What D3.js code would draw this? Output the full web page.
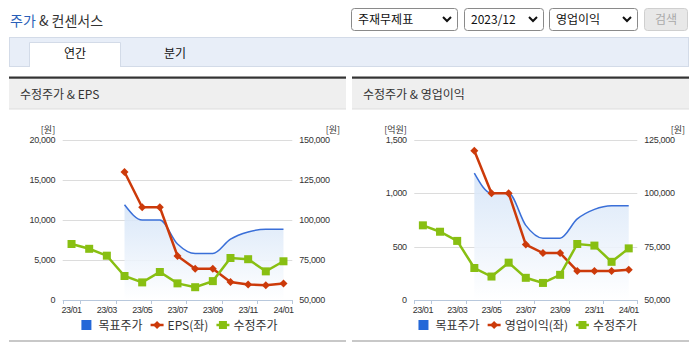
<!DOCTYPE html>
<html><head><meta charset="utf-8">
<script src="https://cdn.jsdelivr.net/npm/d3@7"></script>
<style>
body{margin:0;background:#fff;}
svg{display:block;font-family:"Liberation Sans","Noto Sans CJK KR",sans-serif;}
.kr{font-family:"Noto Sans CJK KR","Liberation Sans",sans-serif;}
</style></head><body>
<svg id="c" width="695" height="349"></svg>
<script>
// ---- data ----
const months = ["23/01","23/02","23/03","23/04","23/05","23/06","23/07","23/08","23/09","23/10","23/11","23/12","24/01"];
const tickMonths = ["23/01","23/03","23/05","23/07","23/09","23/11","24/01"];
const targetPrice = [null,null,null,109500,100000,100000,85000,79000,79000,88000,92500,94200,94200];
const adjPrice = [85000,82000,77700,65000,61000,67500,60400,58000,61800,76250,75500,67900,74200];
const eps = [null,null,null,16000,11600,11600,5500,3900,3900,2250,1950,1850,2050];
const opProfit = [null,null,null,1400,1000,1000,520,440,440,272,272,272,284];
const epsTicks = [0,5000,10000,15000,20000];
const priceTicksA = [50000,75000,100000,125000,150000];
const opTicks = [0,500,1000,1500];
const priceTicksB = [50000,75000,100000,125000];
const selects = ["주재무제표","2023/12","영업이익"];
const tabs = ["연간","분기"];

const C = {blue:"#3a6fd8", blueSq:"#2468d8", red:"#cc3a0a", green:"#88bf12", grid:"#dcdcdc", axis:"#b8c8dc", text:"#333"};

const svg = d3.select("#c");
const fmt = d3.format(",");

// ---- page header ----
const title = svg.append("text").attr("class","kr").attr("x",10).attr("y",26).attr("font-size",14);
title.append("tspan").attr("fill","#2a5fb8").text("주가");
title.append("tspan").attr("fill","#333").text(" & 컨센서스");

const selX = [351,464,549], selW = [106,79,88];
selects.forEach((s,i)=>{
  const g = svg.append("g").attr("transform",`translate(${selX[i]},8)`);
  g.append("rect").attr("x",0.5).attr("y",0.5).attr("width",selW[i]).attr("height",22).attr("rx",3).attr("fill","#fff").attr("stroke","#8a8a8a");
  g.append("text").attr("class","kr").attr("x",7).attr("y",16).attr("font-size",12).attr("fill","#111").text(s);
  const cx = selW[i]-10;
  g.append("path").attr("d",`M${cx-4},9 L${cx},13 L${cx+4},9`).attr("fill","none").attr("stroke","#111").attr("stroke-width",2);
});
svg.append("rect").attr("x",644.5).attr("y",8.5).attr("width",43).attr("height",22).attr("rx",3).attr("fill","#e8e8e8").attr("stroke","#cfcfcf");
svg.append("text").attr("class","kr").attr("x",666).attr("y",24).attr("text-anchor","middle").attr("font-size",12).attr("fill","#aaa").text("검색");

svg.append("rect").attr("x",9.5).attr("y",37.5).attr("width",679).attr("height",29).attr("fill","#e8eef8").attr("stroke","#d3dbe8");
svg.append("path").attr("d","M29.5,67 V42.5 H120.5 V67").attr("fill","#fff").attr("stroke","#d3dbe8");
tabs.forEach((t,i)=>{
  svg.append("text").attr("class","kr").attr("x",75+i*100).attr("y",58).attr("text-anchor","middle").attr("font-size",12).attr("fill","#111").text(t);
});

// ---- chart panels ----
const panels = [
  {x0:9, x1:346, title:"수정주가 & EPS", plotL:62.7, plotR:292.3, lDomain:[0,20000], lTicks:epsTicks, rDomain:[50000,150000], rTicks:priceTicksA,
   lUnit:"[원]", rUnit:"[원]", rUnitX:340, red:eps, redName:"EPS(좌)"},
  {x0:352, x1:689, title:"수정주가 & 영업이익", plotL:414.3, plotR:637.3, lDomain:[0,1500], lTicks:opTicks, rDomain:[50000,125000], rTicks:priceTicksB,
   lUnit:"[억원]", rUnit:"[원]", rUnitX:685, red:opProfit, redName:"영업이익(좌)"}
];

const defs = svg.append("defs");
const grad = defs.append("linearGradient").attr("id","ag").attr("x1",0).attr("y1",0).attr("x2",0).attr("y2",1);
grad.append("stop").attr("offset","0%").attr("stop-color","#d3e3f7").attr("stop-opacity",0.85);
grad.append("stop").attr("offset","100%").attr("stop-color","#ffffff").attr("stop-opacity",0.9);

const yTop = 140, yBot = 300;

panels.forEach((p,pi)=>{
  const g = svg.append("g");
  // header
  g.append("rect").attr("x",p.x0).attr("y",78).attr("width",p.x1-p.x0).attr("height",31).attr("fill","#efefef");
  g.append("rect").attr("x",p.x0).attr("y",108.5).attr("width",p.x1-p.x0).attr("height",1).attr("fill","#dedede");
  g.append("rect").attr("x",p.x0).attr("y",76.5).attr("width",p.x1-p.x0).attr("height",2.2).attr("fill","#333");
  g.append("text").attr("class","kr").attr("x",p.x0+11).attr("y",99).attr("font-size",12).attr("fill","#333").text(p.title);
  g.append("rect").attr("x",p.x0).attr("y",340).attr("width",p.x1-p.x0).attr("height",2).attr("fill","#c8c8c8");

  const x = d3.scaleBand().domain(months).range([p.plotL,p.plotR]);
  const cx = m => x(m)+x.bandwidth()/2;
  const yL = d3.scaleLinear().domain(p.lDomain).range([yBot,yTop]);
  const yR = d3.scaleLinear().domain(p.rDomain).range([yBot,yTop]);

  // grid
  g.selectAll(".grid").data(p.lTicks.filter(v=>v>p.lDomain[0])).join("line")
    .attr("x1",p.plotL).attr("x2",p.plotR).attr("y1",d=>Math.round(yL(d))+0.5).attr("y2",d=>Math.round(yL(d))+0.5)
    .attr("stroke",C.grid);

  // axis labels
  g.selectAll(".lt").data(p.lTicks).join("text")
    .attr("x",p.plotL-7.5).attr("y",d=>yL(d)+3).attr("text-anchor","end").attr("font-size",9).attr("letter-spacing",-0.3)
    .attr("fill",C.text).text(fmt);
  g.selectAll(".rt").data(p.rTicks).join("text")
    .attr("x",p.plotR+7).attr("y",d=>yR(d)+3).attr("text-anchor","start").attr("font-size",9).attr("letter-spacing",-0.3)
    .attr("fill",C.text).text(fmt);
  g.append("text").attr("class","kr").attr("x",p.plotL-7.5).attr("y",yTop-7).attr("text-anchor","end").attr("font-size",9).attr("fill",C.text).text(p.lUnit);
  g.append("text").attr("class","kr").attr("x",p.rUnitX).attr("y",yTop-7).attr("text-anchor","end").attr("font-size",9).attr("fill",C.text).text(p.rUnit);

  // x axis
  const xa = d3.axisBottom(x).tickValues(tickMonths).tickSize(0).tickPadding(7);
  const ax = g.append("g").attr("transform",`translate(0,${yBot})`).call(xa);
  ax.select(".domain").attr("stroke",C.axis).attr("d",`M${p.plotL},0.5H${p.plotR}`);
  ax.selectAll("text").attr("font-size",9).attr("letter-spacing",-0.5).attr("fill",C.text).attr("font-family","Liberation Sans");
  const edges = [p.plotL].concat(tickMonths.map(m=>x(m)+x.bandwidth()));
  g.selectAll(".tk").data(edges).join("line")
    .attr("x1",d=>Math.round(d)+0.5).attr("x2",d=>Math.round(d)+0.5).attr("y1",yBot).attr("y2",yBot+4).attr("stroke",C.axis);

  // target price area + line
  const tp = months.map((m,i)=>({m,v:targetPrice[i]})).filter(d=>d.v!=null);
  g.append("path").datum(tp).attr("fill","url(#ag)")
    .attr("d",d3.area().x(d=>cx(d.m)).y0(yBot).y1(d=>yR(d.v)).curve(d3.curveMonotoneX));
  g.append("path").datum(tp).attr("fill","none").attr("stroke",C.blue).attr("stroke-width",1.5)
    .attr("d",d3.line().x(d=>cx(d.m)).y(d=>yR(d.v)).curve(d3.curveMonotoneX));

  // red series
  const rd = months.map((m,i)=>({m,v:p.red[i]})).filter(d=>d.v!=null);
  g.append("path").datum(rd).attr("fill","none").attr("stroke",C.red).attr("stroke-width",2.5)
    .attr("d",d3.line().x(d=>cx(d.m)).y(d=>yL(d.v)));
  g.selectAll(".rm").data(rd).join("path")
    .attr("transform",d=>`translate(${cx(d.m)},${yL(d.v)})`)
    .attr("d","M0,-4L4,0L0,4L-4,0Z").attr("fill",C.red);

  // green series
  const gd = months.map((m,i)=>({m,v:adjPrice[i]}));
  g.append("path").datum(gd).attr("fill","none").attr("stroke",C.green).attr("stroke-width",2.5)
    .attr("d",d3.line().x(d=>cx(d.m)).y(d=>yR(d.v)));
  g.selectAll(".gm").data(gd).join("rect")
    .attr("x",d=>cx(d.m)-4).attr("y",d=>yR(d.v)-4).attr("width",8).attr("height",8).attr("fill",C.green);

  // legend
  const lg = g.append("g").attr("class","kr");
  const items = [{t:"목표주가",k:"sq"},{t:p.redName,k:"red"},{t:"수정주가",k:"green"}];
  let xx = 0; const ly = 325;
  items.forEach((it,i)=>{
    const sw = it.k==="sq"?10:13;
    const sg = lg.append("g");
    if(it.k==="sq"){
      sg.append("rect").attr("x",xx).attr("y",ly-5).attr("width",10).attr("height",10).attr("fill",C.blueSq);
    } else {
      const col = it.k==="red"?C.red:C.green;
      sg.append("line").attr("x1",xx).attr("x2",xx+sw).attr("y1",ly).attr("y2",ly).attr("stroke",col).attr("stroke-width",2.5);
      if(it.k==="red") sg.append("path").attr("transform",`translate(${xx+sw/2},${ly})`).attr("d","M0,-4L4,0L0,4L-4,0Z").attr("fill",col);
      else sg.append("rect").attr("x",xx+sw/2-4).attr("y",ly-4).attr("width",8).attr("height",8).attr("fill",col);
    }
    xx += sw + (it.k==="sq"?7:4);
    const tx = sg.append("text").attr("x",xx).attr("y",ly+4.5).attr("font-size",12).attr("fill","#333").text(it.t);
    xx += tx.node().getComputedTextLength() + 8;
  });
  const totalW = xx - 8;
  const center = (p.plotL+p.plotR)/2 + 2;
  lg.attr("transform",`translate(${center-totalW/2},0)`);
});
</script>
</body></html>
